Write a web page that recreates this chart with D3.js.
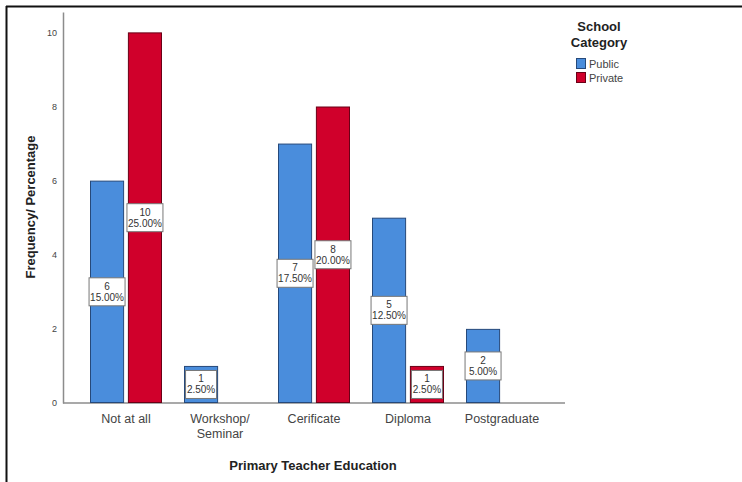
<!DOCTYPE html>
<html>
<head>
<meta charset="utf-8">
<script src="https://cdn.jsdelivr.net/npm/d3@7"></script>
<style>
  html, body { margin: 0; padding: 0; background: #fff; }
  svg { display: block; font-family: "Liberation Sans", Arial, sans-serif; }
</style>
</head>
<body>
<svg id="chart" width="742" height="482"></svg>
<script>
// Teacher education level by school category (counts and share of all 40 teachers)
const categories = ["Not at all", "Workshop/ Seminar", "Cerificate", "Diploma", "Postgraduate"];
const seriesNames = ["Public", "Private"];
const publicCounts = [6, 1, 7, 5, 2];
const privateCounts = [10, 0, 8, 1, 0];
const publicPct = ["15.00%", "2.50%", "17.50%", "12.50%", "5.00%"];
const privatePct = ["25.00%", "", "20.00%", "2.50%", ""];
const yTicks = [0, 2, 4, 6, 8, 10];
const colors = { Public: "#4a8ddc", Private: "#d0002b" };
const strokes = { Public: "#26497a", Private: "#6a0016" };

const svg = d3.select("#chart");

// frame lines along top and left
svg.append("line").attr("x1", 6).attr("x2", 742).attr("y1", 6.5).attr("y2", 6.5)
  .attr("stroke", "#111").attr("stroke-width", 2);
svg.append("line").attr("x1", 6.5).attr("x2", 6.5).attr("y1", 6).attr("y2", 482)
  .attr("stroke", "#111").attr("stroke-width", 2);

const x = d3.scaleBand().domain(categories).range([79, 549]);
const xSub = d3.scaleBand().domain(seriesNames).range([11, 83]).paddingInner(0.1);
const y = d3.scaleLinear().domain([0, 10.55]).range([403, 12]);

// y axis
const yAxis = svg.append("g").attr("transform", "translate(63,0)")
  .call(d3.axisLeft(y).tickValues(yTicks).tickSize(0).tickSizeOuter(0).tickPadding(6));
yAxis.select(".domain").attr("stroke", "#8c8c8c").attr("stroke-width", 1.5);
yAxis.selectAll("text").attr("font-size", 9).attr("fill", "#444")
  .attr("font-family", "Liberation Sans, Arial, sans-serif");

// baseline
svg.append("line").attr("x1", 63).attr("x2", 565).attr("y1", y(0)).attr("y2", y(0))
  .attr("stroke", "#8c8c8c").attr("stroke-width", 1.5);

// x tick labels
const xAxis = svg.append("g").attr("transform", `translate(0,${y(0)})`)
  .call(d3.axisBottom(x).tickSize(0).tickPadding(0).tickFormat(() => ""));
xAxis.select(".domain").remove();
xAxis.selectAll(".tick").each(function (d) {
  const t = d3.select(this).select("text")
    .attr("font-size", 12.5).attr("fill", "#444").attr("dy", null)
    .attr("font-family", "Liberation Sans, Arial, sans-serif");
  const parts = d.split(" ");
  const lines = d.includes("/") ? [parts[0], parts.slice(1).join(" ")] : [d];
  lines.forEach((ln, i) => {
    t.append("tspan").attr("x", 0).attr("y", 20 + i * 15).text(ln);
  });
});

// bars
const rows = categories.map((c, i) => ({
  cat: c,
  values: [
    { key: "Public", v: publicCounts[i], pct: publicPct[i] },
    { key: "Private", v: privateCounts[i], pct: privatePct[i] }
  ].filter(d => d.v > 0)
}));

const groups = svg.append("g").selectAll("g").data(rows).join("g")
  .attr("transform", d => `translate(${x(d.cat)},0)`);

groups.selectAll("rect.bar").data(d => d.values).join("rect")
  .attr("class", "bar")
  .attr("x", d => xSub(d.key) + 0.5)
  .attr("width", xSub.bandwidth() - 1)
  .attr("y", d => y(d.v) + 0.5)
  .attr("height", d => y(0) - y(d.v) - 1)
  .attr("fill", d => colors[d.key])
  .attr("stroke", d => strokes[d.key])
  .attr("stroke-width", 1);

// value labels
const lab = groups.selectAll("g.lab").data(d => d.values).join("g")
  .attr("class", "lab")
  .attr("transform", d => `translate(${xSub(d.key) + xSub.bandwidth() / 2},${(y(d.v) + y(0)) / 2})`);
lab.append("rect")
  .attr("x", d => d.v > 1 ? -18 : -15.5)
  .attr("width", d => d.v > 1 ? 36 : 31)
  .attr("y", -14).attr("height", 28)
  .attr("fill", "#fff").attr("stroke", "#777").attr("stroke-width", 1);
lab.append("text").attr("text-anchor", "middle").attr("y", -2)
  .attr("font-size", 10).attr("fill", "#333").text(d => d.v);
lab.append("text").attr("text-anchor", "middle").attr("y", 9)
  .attr("font-size", 10).attr("fill", "#333").text(d => d.pct);

// axis titles
svg.append("text").attr("x", 313).attr("y", 470).attr("text-anchor", "middle")
  .attr("font-size", 13).attr("font-weight", "bold").attr("fill", "#222")
  .text("Primary Teacher Education");
svg.append("text").attr("transform", "translate(35,207) rotate(-90)")
  .attr("text-anchor", "middle").attr("font-size", 13).attr("font-weight", "bold")
  .attr("fill", "#222").text("Frequency/ Percentage");

// legend
const legend = svg.append("g");
legend.append("text").attr("x", 599).attr("y", 31).attr("text-anchor", "middle")
  .attr("font-size", 13).attr("font-weight", "bold").attr("fill", "#222").text("School");
legend.append("text").attr("x", 599).attr("y", 47).attr("text-anchor", "middle")
  .attr("font-size", 13).attr("font-weight", "bold").attr("fill", "#222").text("Category");
const items = legend.selectAll("g.item").data(seriesNames).join("g")
  .attr("class", "item")
  .attr("transform", (d, i) => `translate(576,${58 + i * 14})`);
items.append("rect").attr("x", 0.5).attr("y", 0.5).attr("width", 9).attr("height", 10)
  .attr("fill", d => colors[d]).attr("stroke", d => strokes[d]);
items.append("text").attr("x", 13).attr("y", 9.5).attr("font-size", 11)
  .attr("fill", "#444").text(d => d);
</script>
</body>
</html>
